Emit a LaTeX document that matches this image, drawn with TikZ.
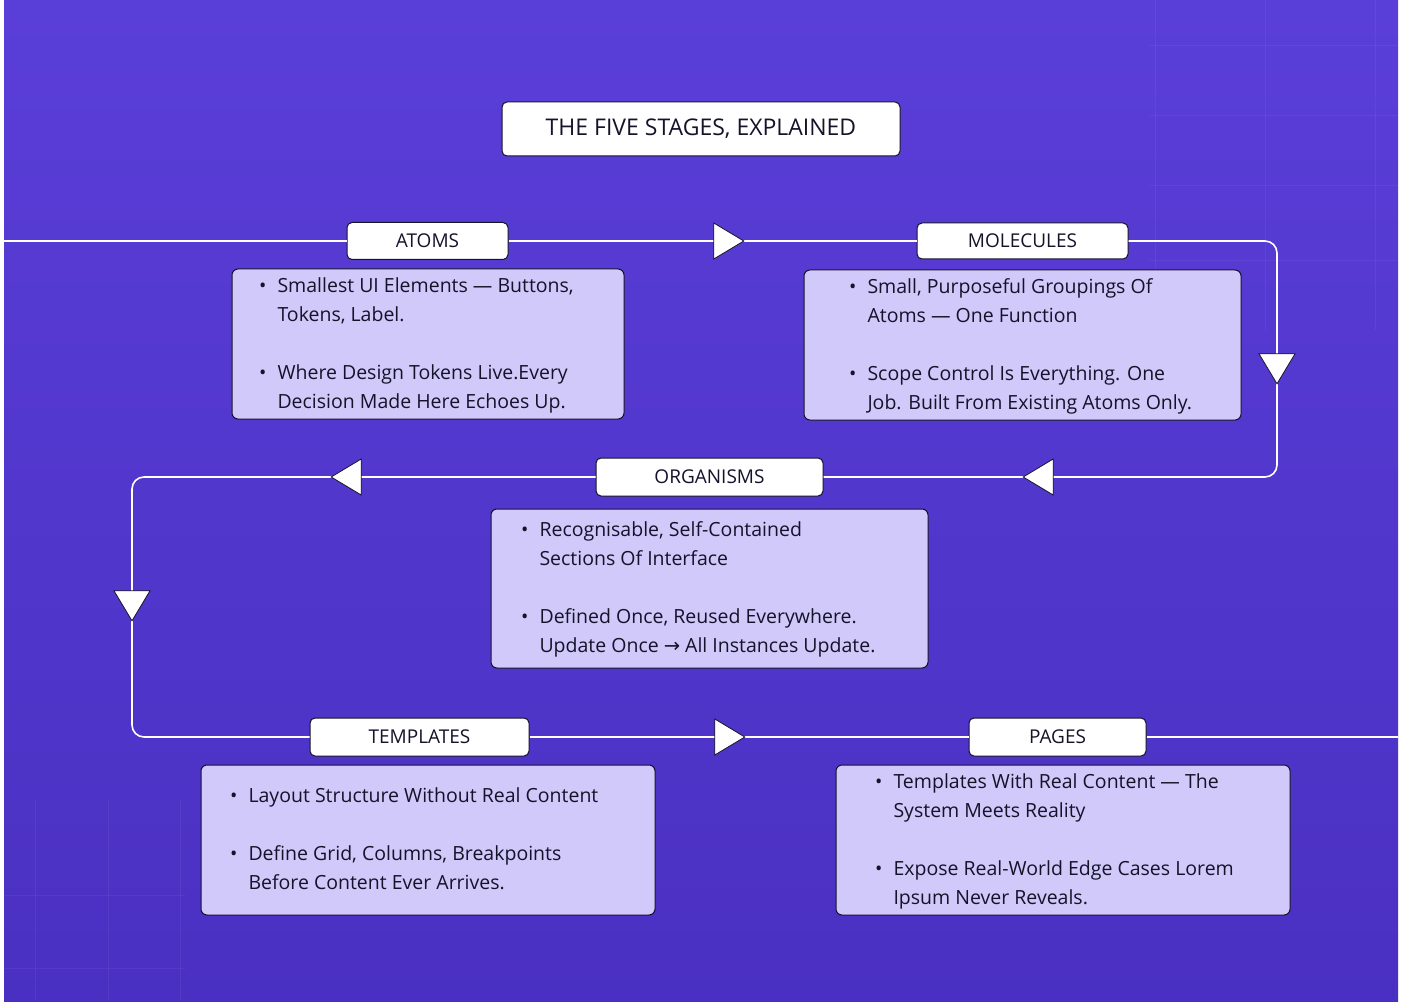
\documentclass[tikz,border=0pt]{standalone}
\usepackage{fontspec}
\setmainfont{Open Sans}
\newfontfamily\symf{DejaVu Sans}
\usetikzlibrary{shapes.geometric}
\definecolor{bgtop}{HTML}{5A3ED8}
\definecolor{bgbot}{HTML}{4A30C2}
\definecolor{boxfill}{HTML}{D0C9FA}
\definecolor{ink}{HTML}{15132A}
\tikzset{
  lbl/.style={draw=ink,fill=white,rounded corners=5pt,line width=1pt,inner sep=0pt,font=\fontsize{19}{20}\selectfont\color{ink}},
  card/.style={draw=ink,fill=boxfill,rounded corners=6pt,line width=1pt},
  body/.style={anchor=north west,inner sep=0pt,align=left,font=\fontsize{19.5}{29}\selectfont\color{ink}},
  flow/.style={white,line width=1.6pt,rounded corners=12pt},
  tri/.style={isosceles triangle,isosceles triangle apex angle=62,draw=ink,fill=white,line width=0.8pt,minimum height=30pt,inner sep=0pt}
}
\newcommand{\bl}[4]{\begin{tabular}{@{}l@{\hspace{11pt}}l@{}}\textbullet&#1\\&#2\\[29pt]\textbullet&#3\\&#4\end{tabular}}
\begin{document}
\begin{tikzpicture}[x=1pt,y=-1pt]
\useasboundingbox (0,0) rectangle (1403,1008);
\fill[white] (0,0) rectangle (1403,1008);
\shade[top color=bgtop,bottom color=bgbot] (4,0) rectangle (1398,1001);
% grid faint
\foreach \x in {1155,1265,1375} \draw[white,opacity=0.05] (\x,0) -- (\x,330);
\foreach \y in {45,115,185,260} \draw[white,opacity=0.05] (1150,\y) -- (1398,\y);
\foreach \x in {35,108,180} \draw[white,opacity=0.05] (\x,800) -- (\x,1000);
\foreach \y in {895,968} \draw[white,opacity=0.05] (4,\y) -- (185,\y);
% title
\node[lbl,minimum width=398pt,minimum height=54pt,font=\fontsize{23}{24}\selectfont\color{ink}] (title) at (701,129) {THE FIVE STAGES, EXPLAINED};
% labels
\node[lbl,minimum width=161pt,minimum height=37pt] (atoms) at (427.5,241) {ATOMS};
\node[lbl,minimum width=211pt,minimum height=36pt] (mol) at (1022.5,241) {MOLECULES};
\node[lbl,minimum width=227pt,minimum height=38pt] (org) at (709.5,477) {ORGANISMS};
\node[lbl,minimum width=219pt,minimum height=38pt] (tmp) at (419.5,737) {TEMPLATES};
\node[lbl,minimum width=177pt,minimum height=38pt] (pag) at (1057.5,737) {PAGES};
% coordinates
\coordinate (s) at (4,241);
\coordinate (c1) at (1277,241);
\coordinate (c2) at (1277,477);
\coordinate (c3) at (132,477);
\coordinate (c4) at (132,737);
\coordinate (e) at (1398,737);
% flow lines
\draw[flow] (s) -- (atoms.west);
\draw[flow] (atoms.east) -- (mol.west);
\draw[flow] (mol.east) -- (c1) -- (c2) -- (org.east);
\draw[flow] (org.west) -- (c3) -- (c4) -- (tmp.west);
\draw[flow] (tmp.east) -- (pag.west);
\draw[flow] (pag.east) -- (e);
% arrows
\node[tri,shape border rotate=0] (a1) at (724,241) {};
\node[tri,shape border rotate=-90] (a2) at (1277,364) {};
\node[tri,shape border rotate=180] (a3) at (1043,477) {};
\node[tri,shape border rotate=180] (a4) at (351,477) {};
\node[tri,shape border rotate=-90] (a5) at (132,601) {};
\node[tri,shape border rotate=0] (a6) at (725,737) {};
% cards
\draw[card] (232,269) rectangle (624,419);
\node[body] (t1) at (259,272) {\bl{Smallest UI Elements — Buttons,}{Tokens, Label.}{Where Design Tokens Live.Every}{Decision Made Here Echoes Up.}};
\draw[card] (804,270) rectangle (1241,420);
\node[body] (t2) at (849,273) {\bl{Small, Purposeful Groupings Of}{Atoms — One Function}{Scope Control Is Everything. One}{Job. Built From Existing Atoms Only.}};
\draw[card] (491,509) rectangle (928,668);
\node[body] (t3) at (521,516) {\bl{Recognisable, Self-Contained}{Sections Of Interface}{Defined Once, Reused Everywhere.}{Update Once {\symf→} All Instances Update.}};
\draw[card] (201,765) rectangle (655,915);
\node[body] (t4) at (230,782) {\begin{tabular}{@{}l@{\hspace{11pt}}l@{}}\textbullet&Layout Structure Without Real Content\\[29pt]\textbullet&Define Grid, Columns, Breakpoints\\&Before Content Ever Arrives.\end{tabular}};
\draw[card] (836,765) rectangle (1290,915);
\node[body] (t5) at (875,768) {\bl{Templates With Real Content — The}{System Meets Reality}{Expose Real-World Edge Cases Lorem}{Ipsum Never Reveals.}};
\end{tikzpicture}
\end{document}
